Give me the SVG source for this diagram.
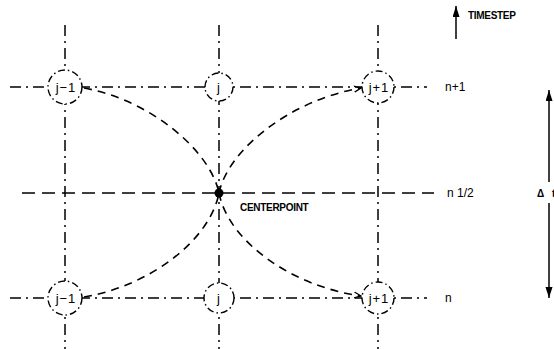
<svg xmlns="http://www.w3.org/2000/svg" width="554" height="349" viewBox="0 0 554 349">
<style>
.grid{stroke:#000;stroke-width:1.5;fill:none;stroke-dasharray:11 5 2 5}
.half{stroke:#000;stroke-width:1.5;fill:none;stroke-dasharray:13 7}
.curve{stroke:#000;stroke-width:1.6;fill:none;stroke-dasharray:8 6}
.ring{stroke:#000;stroke-width:1.4;fill:#fff;stroke-dasharray:7 3 1.5 3}
.lbl{font-family:"Liberation Sans",Arial,sans-serif;font-size:12px;fill:#000}
.node{font-family:"Liberation Sans",Arial,sans-serif;font-size:13px;fill:#000;text-anchor:middle;letter-spacing:1px}
.cap{font-family:"Liberation Sans",Arial,sans-serif;font-size:10px;font-weight:bold;fill:#000;letter-spacing:-0.3px}
</style>
<defs>
<marker id="ah" markerWidth="8" markerHeight="8" refX="7" refY="4" orient="auto" markerUnits="userSpaceOnUse">
<path d="M0,1 L7,4 L0,7" fill="none" stroke="#000" stroke-width="1.3"/>
</marker>
<marker id="solid" markerWidth="12" markerHeight="8" refX="11" refY="3.5" orient="auto" markerUnits="userSpaceOnUse">
<path d="M0,0 L11,3.5 L0,7 Z" fill="#000"/>
</marker>
</defs>
<g id="gridlines">
<line class="grid" x1="65" y1="25" x2="65" y2="349"/>
<line class="grid" x1="219" y1="25" x2="219" y2="349"/>
<line class="grid" x1="378" y1="25" x2="378" y2="349"/>
<line class="grid" x1="10" y1="87" x2="427" y2="87"/>
<line class="grid" x1="10" y1="298" x2="427" y2="298"/>
<line class="half" x1="22" y1="193" x2="434" y2="193"/>
</g>
<g id="connectors">
<path class="curve" d="M84,88 C150,100 210,150 219,193"/>
<path class="curve" d="M219,193 C228,150 290,100 361,88" marker-end="url(#ah)"/>
<path class="curve" d="M84,297 C150,286 210,240 219,193"/>
<path class="curve" d="M219,193 C228,240 290,286 361,296" marker-end="url(#ah)"/>
</g>
<g id="node-j-1-top">
<circle class="ring" cx="65" cy="87" r="17"/>
<text class="node" x="66" y="92">j−1</text>
</g>
<g id="node-j-top">
<circle class="ring" cx="219" cy="87" r="14"/>
<text class="node" x="219" y="92">j</text>
</g>
<g id="node-j+1-top">
<circle class="ring" cx="378" cy="87" r="16"/>
<text class="node" x="379" y="92">j+1</text>
</g>
<g id="node-j-1-bottom">
<circle class="ring" cx="65" cy="298" r="17"/>
<text class="node" x="66" y="303">j−1</text>
</g>
<g id="node-j-bottom">
<circle class="ring" cx="219" cy="298" r="15"/>
<text class="node" x="219" y="303">j</text>
</g>
<g id="node-j+1-bottom">
<circle class="ring" cx="378" cy="298" r="16"/>
<text class="node" x="379" y="303">j+1</text>
</g>
<g id="centerpoint">
<circle cx="219" cy="193" r="4.5" fill="#000"/>
<text class="cap" x="240" y="211">CENTERPOINT</text>
</g>
<g id="row-labels">
<text class="lbl" x="445" y="91">n+1</text>
<text class="lbl" x="447" y="197">n  1/2</text>
<text class="lbl" x="445" y="302">n</text>
</g>
<g id="timestep">
<line x1="456" y1="39" x2="456" y2="6" stroke="#000" stroke-width="1.5" marker-end="url(#solid)"/>
<text class="cap" x="468" y="19" font-size="9">TIMESTEP</text>
</g>
<g id="delta-t">
<line x1="549" y1="182" x2="549" y2="90" stroke="#000" stroke-width="1.5" marker-end="url(#solid)"/>
<line x1="549" y1="203" x2="549" y2="298" stroke="#000" stroke-width="1.5" marker-end="url(#solid)"/>
<text class="cap" x="537" y="197">Δ<tspan x="552">t</tspan></text>
</g>
</svg>
